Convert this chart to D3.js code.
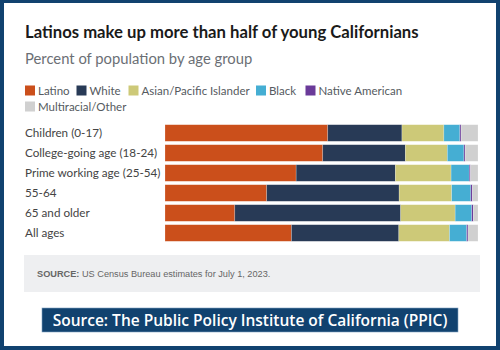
<!DOCTYPE html>
<html>
<head>
<meta charset="utf-8">
<script src="https://cdn.jsdelivr.net/npm/d3@7"></script>
<style>
  body { margin: 0; background: #ffffff; }
  svg { display: block; }
</style>
</head>
<body>
<svg id="chart" width="500" height="350"></svg>
<script>
// age groups (rows)
const ageGroups = ['Children (0-17)', 'College-going age (18-24)', 'Prime working age (25-54)', '55-64', '65 and older', 'All ages']

// race / ethnicity groups (segments)
const raceGroups = ['Latino', 'White', 'Asian/Pacific Islander', 'Black', 'Native American', 'Multiracial/Other']

// percent values per age group
const latino   = [52.0, 50.4, 41.9, 32.5, 22.3, 40.4]
const white    = [23.7, 26.4, 31.7, 42.3, 53.0, 34.3]
const asianPI  = [13.4, 13.4, 17.8, 16.8, 17.4, 16.2]
const black    = [5.1, 5.3, 5.8, 6.1, 5.3, 5.5]
const native   = [0.4, 0.4, 0.4, 0.5, 0.5, 0.4]
const other    = [5.4, 4.1, 2.4, 1.8, 1.5, 3.2]

const colors = ['#cb4f1b', '#283a56', '#cdc978', '#45aed3', '#6a3a99', '#d0d0d0']

const svg = d3.select('#chart')
const width = 500
const height = 350

// outer navy frame
svg.append('rect')
  .attr('x', 0).attr('y', 0)
  .attr('width', width).attr('height', height)
  .attr('fill', '#11426f')
svg.append('rect')
  .attr('x', 4).attr('y', 3)
  .attr('width', width - 8).attr('height', height - 7)
  .attr('fill', '#ffffff')

// title + subtitle
svg.append('text')
  .attr('x', 25).attr('y', 38)
  .attr('font-family', 'Lato')
  .attr('font-weight', 'bold')
  .attr('font-size', 16.7)
  .attr('fill', '#1a1a1a')
  .text('Latinos make up more than half of young Californians')

svg.append('text')
  .attr('x', 25).attr('y', 64)
  .attr('font-family', 'Lato')
  .attr('font-size', 14.8)
  .attr('fill', '#6b6f75')
  .text('Percent of population by age group')

// legend, two rows
const legendPos = [[25, 85.5], [76.5, 85.5], [128.5, 85.5], [256, 85.5], [305.5, 85.5], [25, 101.5]]
const legendG = svg.selectAll('.legend')
  .data(raceGroups)
  .enter().append('g')
  .attr('class', 'legend')
  .attr('transform', (d, i) => `translate(${legendPos[i][0]},${legendPos[i][1]})`)

legendG.append('rect')
  .attr('width', 10)
  .attr('height', 10)
  .attr('fill', (d, i) => colors[i])

legendG.append('text')
  .attr('x', 13)
  .attr('y', 9)
  .attr('font-family', 'Lato')
  .attr('font-size', 11.5)
  .attr('fill', '#555a60')
  .text(d => d)

// stacked data
const rows = ageGroups.map((g, i) => ({
  group: g,
  'Latino': latino[i],
  'White': white[i],
  'Asian/Pacific Islander': asianPI[i],
  'Black': black[i],
  'Native American': native[i],
  'Multiracial/Other': other[i]
}))

const stack = d3.stack().keys(raceGroups)
const series = stack(rows)

const x = d3.scaleLinear()
  .domain([0, 100])
  .range([165, 478])

const y = d3.scaleBand()
  .domain(ageGroups)
  .range([123, 243])
  .paddingInner(0.17)
  .paddingOuter(0.085)

const layers = svg.append('g')
  .selectAll('g')
  .data(series)
  .enter().append('g')
  .attr('fill', (d, i) => colors[i])

layers.selectAll('rect')
  .data(d => d)
  .enter().append('rect')
  .attr('x', d => x(d[0]))
  .attr('y', d => y(d.data.group))
  .attr('width', d => x(d[1]) - x(d[0]))
  .attr('height', y.bandwidth())
  .attr('stroke', '#ffffff')
  .attr('stroke-opacity', 0.35)
  .attr('stroke-width', 0.6)

// row labels
svg.append('g')
  .selectAll('text')
  .data(ageGroups)
  .enter().append('text')
  .attr('x', 25)
  .attr('y', d => y(d) + y.bandwidth() / 2 + 4)
  .attr('font-family', 'Lato')
  .attr('font-size', 11.7)
  .attr('fill', '#444')
  .text(d => d)

// source note box
svg.append('rect')
  .attr('x', 24).attr('y', 255)
  .attr('width', 456).attr('height', 37)
  .attr('fill', '#eeeff1')

const note = svg.append('text')
  .attr('x', 37).attr('y', 277)
  .attr('font-family', 'Liberation Sans')
  .attr('font-size', 9.2)
  .attr('fill', '#666')
note.append('tspan').attr('font-weight', 'bold').text('SOURCE:')
note.append('tspan').text(' US Census Bureau estimates for July 1, 2023.')

// bottom banner
svg.append('rect')
  .attr('x', 42).attr('y', 308)
  .attr('width', 416).attr('height', 24)
  .attr('fill', '#11426f')
  .attr('stroke', '#7fa0c0')
  .attr('stroke-width', 0.6)

svg.append('text')
  .attr('x', 250).attr('y', 326)
  .attr('text-anchor', 'middle')
  .attr('font-family', 'Open Sans')
  .attr('font-weight', 600)
  .attr('font-size', 15.5)
  .attr('fill', '#ffffff')
  .text('Source: The Public Policy Institute of California (PPIC)')
</script>
</body>
</html>
